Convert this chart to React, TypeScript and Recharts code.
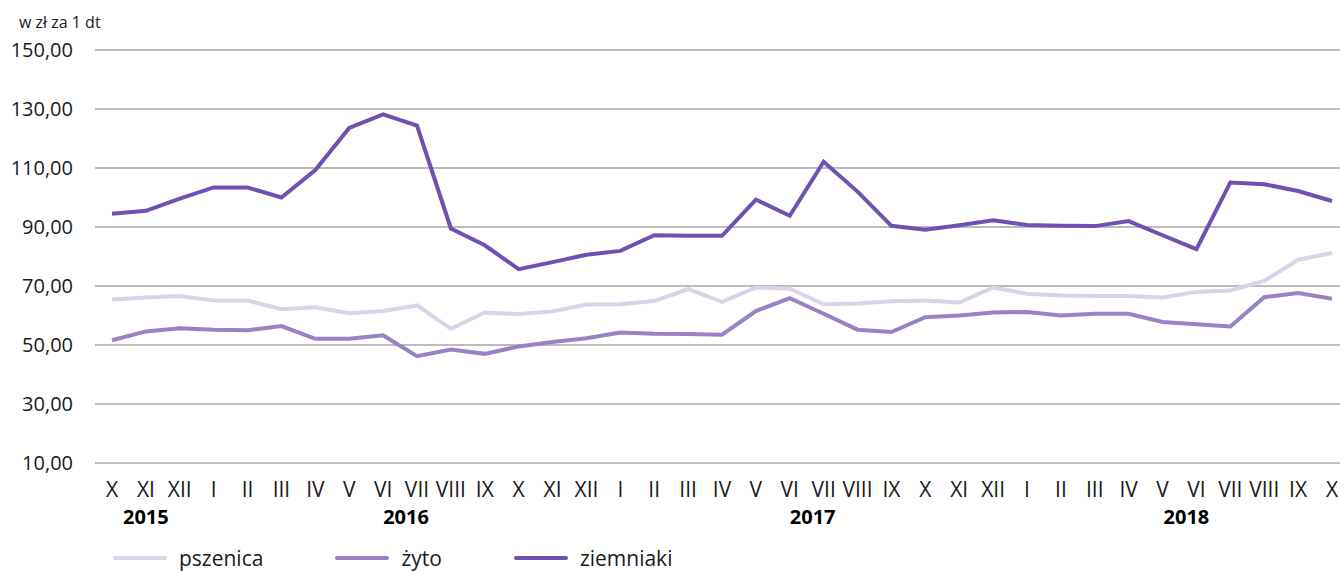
import { LineChart, Line, XAxis, YAxis, CartesianGrid } from 'recharts'

const MONTHS = [
  'X', 'XI', 'XII',
  'I', 'II', 'III', 'IV', 'V', 'VI', 'VII', 'VIII', 'IX', 'X', 'XI', 'XII',
  'I', 'II', 'III', 'IV', 'V', 'VI', 'VII', 'VIII', 'IX', 'X', 'XI', 'XII',
  'I', 'II', 'III', 'IV', 'V', 'VI', 'VII', 'VIII', 'IX', 'X',
]

// rok podpisany pod wskazanym miesiącem (indeks w MONTHS)
const YEARS = [
  { index: 1, label: '2015', shift: 0 },
  { index: 9, label: '2016', shift: -11 },
  { index: 21, label: '2017', shift: -11 },
  { index: 32, label: '2018', shift: -10 },
]

const PSZENICA = [
  65.4, 66.1, 66.6,
  65.1, 65.1, 62.1, 62.8, 60.8, 61.5, 63.4, 55.5, 61.0, 60.5, 61.4, 63.7,
  63.8, 64.9, 68.9, 64.6, 69.5, 69.1, 63.8, 64.1, 64.8, 65.1, 64.4, 69.5,
  67.4, 66.8, 66.6, 66.6, 66.1, 68.0, 68.5, 71.7, 78.9, 81.2,
]

const ZYTO = [
  51.6, 54.6, 55.7,
  55.2, 55.0, 56.4, 52.1, 52.1, 53.3, 46.2, 48.5, 47.0, 49.5, 51.0, 52.3,
  54.2, 53.8, 53.7, 53.5, 61.5, 65.9, 60.6, 55.2, 54.4, 59.4, 60.0, 61.0,
  61.2, 60.0, 60.6, 60.6, 57.8, 57.0, 56.3, 66.2, 67.6, 65.7,
]

const ZIEMNIAKI = [
  94.5, 95.5, 99.6,
  103.4, 103.4, 100.0, 109.3, 123.6, 128.2, 124.4, 89.5, 83.8, 75.7, 78.1, 80.6,
  81.9, 87.2, 87.0, 87.0, 99.3, 93.8, 112.1, 102.0, 90.4, 89.1, 90.6, 92.3,
  90.7, 90.4, 90.3, 92.0, 87.2, 82.5, 105.1, 104.5, 102.2, 98.8,
]

const Y_TICKS = [10, 30, 50, 70, 90, 110, 130, 150]

const SERIES = [
  { key: 'pszenica', name: 'pszenica', color: '#dcd2ea' },
  { key: 'zyto', name: 'żyto', color: '#9a80c5' },
  { key: 'ziemniaki', name: 'ziemniaki', color: '#7050b1' },
]

const FONT = '"Open Sans", "Noto Sans", sans-serif'

const data = MONTHS.map((m, i) => ({
  month: m,
  pszenica: PSZENICA[i],
  zyto: ZYTO[i],
  ziemniaki: ZIEMNIAKI[i],
}))

function MonthTick(props: any) {
  const { x, y, payload, index } = props
  const year = YEARS.find(yr => yr.index === index)
  return (
    <g>
      <text x={x} y={y + 33.5} textAnchor="middle" fontSize={21} fill="#1a1a1a" fontFamily={FONT}>
        {payload.value}
      </text>
      {year && (
        <text x={x + year.shift} y={y + 61} textAnchor="middle" fontSize={20} fontWeight="bold" fill="#000" fontFamily={FONT}>
          {year.label}
        </text>
      )}
    </g>
  )
}

export default function App() {
  return (
    <div style={{ position: 'absolute', left: 0, top: 0, width: 1340, height: 571, overflow: 'hidden', background: '#fff', fontFamily: FONT }}>
      <div style={{ position: 'absolute', left: 19, top: 13, fontSize: 16, lineHeight: '18px', color: '#1a1a1a' }}>w zł za 1 dt</div>
      <LineChart
        width={1350}
        height={571}
        data={data}
        margin={{ top: 50, right: 1, bottom: 68, left: 0 }}
      >
        <CartesianGrid vertical={false} stroke="#a6a6a6" strokeWidth={1.5} />
        <XAxis
          dataKey="month"
          interval={0}
          padding={{ left: 17, right: 17 }}
          axisLine={false}
          tickLine={false}
          tickSize={0}
          tickMargin={0}
          height={40}
          tick={<MonthTick />}
          allowDuplicatedCategory
        />
        <YAxis
          domain={[10, 150]}
          ticks={Y_TICKS}
          interval={0}
          width={95}
          axisLine={false}
          tickLine={false}
          tickSize={0}
          tickMargin={22}
          tick={{ fontSize: 20, fill: '#1a1a1a', fontFamily: FONT }}
          tickFormatter={(v: number) => v.toFixed(2).replace('.', ',')}
        />
        {SERIES.map(s => (
          <Line
            key={s.key}
            type="linear"
            dataKey={s.key}
            name={s.name}
            stroke={s.color}
            strokeWidth={4}
            dot={false}
            activeDot={false}
            isAnimationActive={false}
          />
        ))}
      </LineChart>
      <div style={{ position: 'absolute', left: 113, top: 546, height: 24, display: 'flex', alignItems: 'center', fontSize: 21, lineHeight: '24px', color: '#1a1a1a' }}>
        {SERIES.map(s => (
          <div key={s.key} style={{ display: 'flex', alignItems: 'center', marginRight: 72 }}>
            <span style={{ display: 'inline-block', width: 54, height: 4, borderRadius: 2, background: s.color, marginRight: 12 }} />
            <span>{s.name}</span>
          </div>
        ))}
      </div>
    </div>
  )
}
